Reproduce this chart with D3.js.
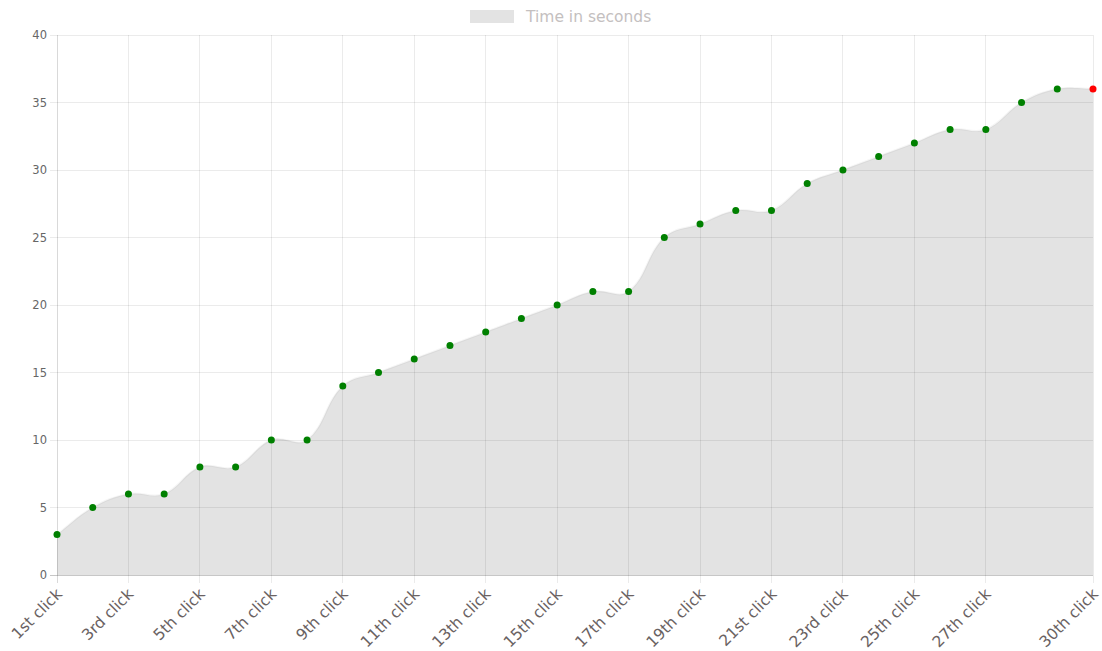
<!DOCTYPE html>
<html><head><meta charset="utf-8">
<script src="https://cdn.jsdelivr.net/npm/d3@7"></script>
<style>body{margin:0;background:#fff;} svg{display:block;}</style>
</head><body>
<svg id="c" width="1102" height="651"></svg>
<script>
const labels = ["1st click","2nd click","3rd click","4th click","5th click","6th click","7th click","8th click","9th click","10th click","11th click","12th click","13th click","14th click","15th click","16th click","17th click","18th click","19th click","20th click","21st click","22nd click","23rd click","24th click","25th click","26th click","27th click","28th click","29th click","30th click"];
const values = [3,5,6,6,8,8,10,10,14,15,16,17,18,19,20,21,21,25,26,27,27,29,30,31,32,33,33,35,36,36];
const shownTicks = ["1st click","3rd click","5th click","7th click","9th click","11th click","13th click","15th click","17th click","19th click","21st click","23rd click","25th click","27th click","30th click"];
const yTicks = [0,5,10,15,20,25,30,35,40];
const seriesName = "Time in seconds";

const svg = d3.select("#c");
const L = 57, R = 1093, T = 35, B = 575;
const x = d3.scalePoint().domain(labels).range([L, R]);
const y = d3.scaleLinear().domain([0, 40]).range([B, T]);

// grid
const g = svg.append("g");
g.selectAll(".hg").data(yTicks).join("line")
  .attr("x1", L - 7).attr("x2", R).attr("y1", d => y(d)).attr("y2", d => y(d))
  .attr("stroke", d => d === 0 ? "rgba(0,0,0,0.22)" : "rgba(0,0,0,0.08)").attr("stroke-width", 1)
  .attr("shape-rendering", "crispEdges");
g.selectAll(".vg").data(shownTicks).join("line")
  .attr("x1", d => x(d)).attr("x2", d => x(d)).attr("y1", T).attr("y2", B + 8)
  .attr("stroke", (d, i) => i === 0 ? "rgba(0,0,0,0.15)" : "rgba(0,0,0,0.08)").attr("stroke-width", 1)
  .attr("shape-rendering", "crispEdges");

// y labels
g.selectAll(".yl").data(yTicks).join("text")
  .attr("x", L - 10).attr("y", d => y(d)).attr("dy", "0.35em")
  .attr("text-anchor", "end").attr("font-family", "DejaVu Sans, sans-serif")
  .attr("font-size", 11.5).attr("fill", "#666").text(d => d);

// x labels
g.selectAll(".xl").data(shownTicks).join("text")
  .attr("transform", d => `translate(${x(d) + 6},${B + 20}) rotate(-45)`)
  .attr("text-anchor", "end").attr("font-family", "DejaVu Sans, sans-serif")
  .attr("font-size", 15.5).attr("fill", "#6a6262").text(d => d);

// Chart.js style spline (tension 0.4)
const pts = values.map((v, i) => ({ x: x(labels[i]), y: y(v) }));
const t = 0.4;
pts.forEach((p, i) => {
  const prev = pts[i - 1] || p, next = pts[i + 1] || p;
  const d01 = Math.hypot(p.x - prev.x, p.y - prev.y);
  const d12 = Math.hypot(next.x - p.x, next.y - p.y);
  let s01 = d01 / (d01 + d12), s12 = d12 / (d01 + d12);
  if (isNaN(s01)) s01 = 0; if (isNaN(s12)) s12 = 0;
  const fa = t * s01, fb = t * s12;
  p.cpPrev = { x: p.x - fa * (next.x - prev.x), y: p.y - fa * (next.y - prev.y) };
  p.cpNext = { x: p.x + fb * (next.x - prev.x), y: p.y + fb * (next.y - prev.y) };
  p.cpPrev.y = Math.max(T, Math.min(B, p.cpPrev.y));
  p.cpNext.y = Math.max(T, Math.min(B, p.cpNext.y));
});
function linePath(ctx) {
  ctx.moveTo(pts[0].x, pts[0].y);
  for (let i = 1; i < pts.length; i++) {
    const a = pts[i - 1], b = pts[i];
    ctx.bezierCurveTo(a.cpNext.x, a.cpNext.y, b.cpPrev.x, b.cpPrev.y, b.x, b.y);
  }
}
const ap = d3.path();
linePath(ap);
ap.lineTo(pts[pts.length - 1].x, y(0));
ap.lineTo(pts[0].x, y(0));
ap.closePath();
svg.append("path").attr("d", ap.toString()).attr("fill", "rgba(0,0,0,0.11)");
const lp = d3.path();
linePath(lp);
svg.append("path").attr("d", lp.toString()).attr("fill", "none").attr("stroke", "rgba(0,0,0,0.04)").attr("stroke-width", 2);

svg.append("g").selectAll("circle").data(values).join("circle")
  .attr("cx", (d, i) => x(labels[i])).attr("cy", d => y(d)).attr("r", 3.5)
  .attr("fill", (d, i) => i === values.length - 1 ? "#ff0000" : "#008000");

// legend
svg.append("rect").attr("x", 470).attr("y", 10).attr("width", 44).attr("height", 13)
  .attr("fill", "#e3e3e3");
svg.append("text").attr("x", 526).attr("y", 16.5).attr("dy", "0.35em")
  .attr("font-family", "DejaVu Sans, sans-serif").attr("font-size", 15.5).attr("fill", "#c4c0c0")
  .text(seriesName);
</script>
</body></html>
